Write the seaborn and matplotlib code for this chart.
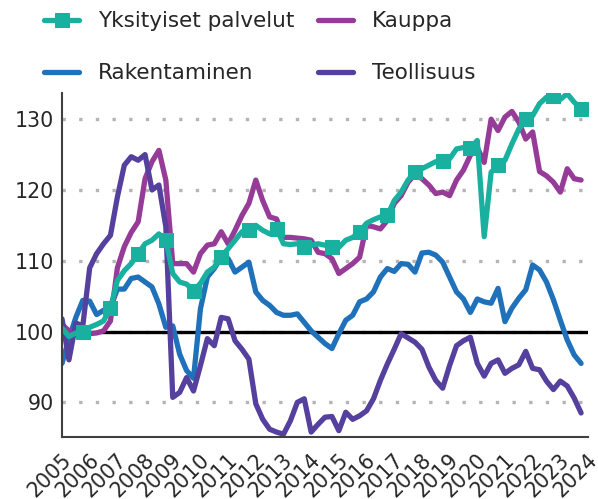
import numpy as np
import pandas as pd
import seaborn as sns
import matplotlib.pyplot as plt
import matplotlib.transforms as mtransforms

# quarterly index, 2005Q1 .. 2023Q4
quarters = np.arange(2005, 2024, 0.25)

yksityiset_palvelut = [
    100.5, 99.3, 99.8, 99.9, 100.6, 101.0, 101.5, 103.3,
    107.2, 108.6, 109.6, 111.0, 112.4, 112.9, 113.8, 112.9,
    108.2, 107.0, 106.7, 105.8, 106.8, 108.4, 109.1, 110.6,
    111.7, 112.9, 114.1, 114.3, 115.0, 114.3, 113.8, 114.5,
    112.4, 112.3, 112.4, 111.9, 112.2, 112.4, 112.2, 112.0,
    111.9, 112.9, 113.3, 114.1, 115.3, 115.8, 116.2, 116.4,
    118.5, 119.7, 121.4, 122.5, 123.0, 123.5, 124.0, 124.1,
    124.4, 125.8, 126.0, 125.9, 127.0, 113.4, 122.5, 123.5,
    124.2, 126.5, 128.6, 130.0, 130.5, 132.2, 133.1, 133.3,
    132.8, 133.6, 132.4, 131.5,
]
kauppa = [
    101.0, 100.1, 100.0, 99.4, 99.7, 99.8, 100.1, 101.5,
    109.0, 112.0, 114.0, 115.5, 121.6, 124.0, 125.6, 121.4,
    109.6, 109.6, 109.6, 108.4, 111.0, 112.2, 112.4, 114.1,
    112.4, 114.3, 116.4, 118.1, 121.4, 118.5, 116.2, 115.9,
    113.3, 113.3, 113.2, 113.1, 112.9, 111.2, 111.0, 110.3,
    108.2, 108.9, 109.6, 110.5, 115.0, 114.8, 114.5, 115.7,
    118.1, 119.2, 121.1, 122.2, 121.6, 120.7, 119.5, 119.7,
    119.2, 121.4, 122.8, 124.9, 126.0, 123.9, 130.0, 128.4,
    130.3, 131.1, 129.6, 127.2, 128.2, 122.6, 122.0, 121.1,
    119.7, 123.0, 121.6, 121.4,
]
rakentaminen = [
    95.5, 99.0, 102.0, 104.4, 104.3, 102.4, 103.0, 103.4,
    106.0, 106.0, 107.5, 107.7, 107.0, 106.3, 103.9, 100.6,
    100.8, 96.8, 94.5, 93.4, 103.2, 107.7, 108.9, 110.5,
    110.3, 108.4, 109.1, 109.8, 105.6, 104.4, 103.7, 102.7,
    102.3, 102.3, 102.5, 101.3, 100.1, 99.2, 98.3, 97.6,
    99.7, 101.6, 102.3, 104.2, 104.6, 105.6, 107.7, 108.9,
    108.5, 109.6, 109.5, 108.4, 111.1, 111.2, 110.8, 109.8,
    107.7, 105.6, 104.6, 102.7, 104.6, 104.2, 104.0, 106.1,
    101.4, 103.3, 104.7, 105.9, 109.4, 108.7, 107.0, 104.5,
    101.6, 98.8, 96.7, 95.5,
]
teollisuus = [
    101.8, 96.0, 101.2, 100.8, 109.0, 111.0, 112.4, 113.6,
    119.0, 123.5, 124.7, 124.2, 125.0, 120.0, 120.7, 114.8,
    90.7, 91.4, 93.5, 91.6, 95.2, 99.0, 98.0, 102.0,
    101.8, 98.7, 97.5, 96.1, 89.8, 87.6, 86.2, 85.8,
    85.5, 87.4, 90.0, 90.5, 85.8, 86.9, 87.9, 88.0,
    86.0, 88.6, 87.6, 88.1, 88.8, 90.5, 93.1, 95.4,
    97.5, 99.7, 99.1, 98.5, 97.5, 95.0, 93.1, 92.0,
    95.2, 98.0, 98.7, 99.2, 95.5, 93.7, 95.5, 96.0,
    94.1, 94.8, 95.3, 97.2, 94.8, 94.6, 93.0, 91.8,
    93.0, 92.3, 90.6, 88.5,
]
year_ticks = list(range(2005, 2025))

sns.set_theme(style="white")
plt.rcParams['font.family'] = ['DejaVu Sans']

fig = plt.figure(figsize=(5.98, 4.99), dpi=100)
ax = fig.add_axes([0.1037, 0.1242, 0.8796, 0.6894])

# grid + reference line at 100
ax.yaxis.grid(True, linestyle=(0, (1, 4)), linewidth=2.4, color='#b5b5b5')
ax.set_axisbelow(True)
ax.axhline(100, color='black', linewidth=2.4, zorder=1.5)

lw = 3.8
sns.lineplot(x=quarters, y=rakentaminen, ax=ax, color='#1f72ba', linewidth=lw,
             label='Rakentaminen')
sns.lineplot(x=quarters, y=kauppa, ax=ax, color='#963c98', linewidth=lw,
             label='Kauppa')
sns.lineplot(x=quarters, y=teollisuus, ax=ax, color='#55409e', linewidth=lw,
             label='Teollisuus')
sns.lineplot(x=quarters, y=yksityiset_palvelut, ax=ax, color='#19b0a0', linewidth=lw,
             marker='s', markersize=10, markeredgecolor='#19b0a0',
             markevery=(3, 4), label='Yksityiset palvelut')

ax.set_xlim(2005, 2024)
ax.set_ylim(85.1, 133.7)
ax.set_yticks([90, 100, 110, 120, 130])
ax.set_xticks(year_ticks)
ax.set_xticklabels([str(y) for y in year_ticks])
ax.set_xlabel('')
ax.set_ylabel('')

ax.tick_params(axis='both', length=0, labelsize=14.8, colors='#262626')
ax.tick_params(axis='y', pad=6)
ax.tick_params(axis='x', pad=14)
# rotated year labels, nudged a little to the right like the original
shift = mtransforms.ScaledTranslation(6 / 100, 0, fig.dpi_scale_trans)
for lab in ax.get_xticklabels():
    lab.set_rotation(45)
    lab.set_ha('right')
    lab.set_va('center')
    lab.set_rotation_mode('anchor')
    lab.set_transform(lab.get_transform() + shift)

for side in ['top', 'right']:
    ax.spines[side].set_visible(False)
for side in ['left', 'bottom']:
    ax.spines[side].set_color('#404040')
    ax.spines[side].set_linewidth(1.5)

# legend above the plot, column-major order
handles, labels = ax.get_legend_handles_labels()
order = ['Yksityiset palvelut', 'Rakentaminen', 'Kauppa', 'Teollisuus']
hmap = dict(zip(labels, handles))
ax.get_legend().remove()
fig.legend([hmap[l] for l in order], order, ncol=2, loc='upper left',
           bbox_to_anchor=(0.042, 1.016), frameon=False, fontsize=15.5,
           handlelength=1.6, handletextpad=0.9, columnspacing=1.1,
           labelspacing=1.48)

fig.savefig('out.png', dpi=100)
